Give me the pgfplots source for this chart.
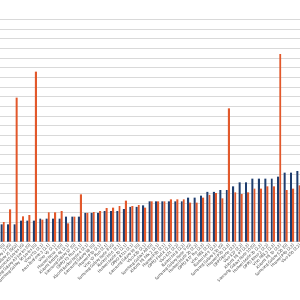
\documentclass[border=0pt]{standalone}
\usepackage{pgfplots}
\pgfplotsset{compat=1.18}
\usepackage{pgfplotstable}
\usepackage{fontspec}
\setmainfont{Carlito}
\definecolor{barblue}{HTML}{1F3D6E}
\definecolor{barorange}{HTML}{E2582B}
\pgfplotstableread{
x b o
0 1.79 2.03
1 1.79 3.34
2 1.79 14.9
3 2.17 2.62
4 2.17 2.76
5 2.17 17.6
6 2.38 2.28
7 2.38 3.03
8 2.38 3.03
9 2.38 3.17
10 2.59 1.90
11 2.59 2.59
12 2.59 4.90
13 2.97 2.97
14 2.97 3.07
15 2.97 3.17
16 3.17 3.48
17 3.17 3.52
18 3.17 3.69
19 3.38 4.24
20 3.59 3.69
21 3.59 3.79
22 3.76 3.52
23 4.17 4.17
24 4.17 4.17
25 4.17 4.17
26 4.17 4.38
27 4.17 4.38
28 4.17 4.38
29 4.55 4.03
30 4.55 4.03
31 4.76 4.55
32 5.14 4.83
33 5.14 5.03
34 5.34 4.48
35 5.34 13.8
36 5.72 5.10
37 6.14 4.93
38 6.14 5.10
39 6.52 5.48
40 6.52 5.48
41 6.52 5.72
42 6.52 5.72
43 6.72 19.4
44 7.14 5.34
45 7.14 5.48
46 7.31 5.83
}\data
\begin{document}
\begin{tikzpicture}
\path[use as bounding box] (0,0) rectangle (300pt,300pt);
\begin{axis}[
  at={(-0.5pt,58.3pt)}, anchor=south west,
  scale only axis, width=302.2pt, height=222.4pt,
  xmin=-0.5, xmax=46.5, ymin=0, ymax=23,
  ytick={0,1,...,23}, yticklabels={},
  ymajorgrids, major grid style={color=black!15, line width=0.8pt},
  axis line style={draw=none},
  major tick length=0pt,
  xtick={0,1,...,46},
  xticklabels={Huawei Y6 (G),Samsung Galaxy J2 (G),Samsung Galaxy J5 (SG2),Lenovo K6 Series (G),Samsung Galaxy A5 Series (G),Samsung Galaxy S6 Series (G),Vivo Y53 (2.1),Asus ZenFone 3 (2.1),Vivo V5 (2.1),Huawei Nova 2 (G),Xiaomi Redmi 4X (2.1),Samsung Galaxy S7 (G),OPPO F3 Plus (2.1),Xiaomi Redmi Note 4 (2.1),Samsung Galaxy S8 (G),Huawei P10 (2.1),Vivo V7 Plus (2.1),Samsung Galaxy Note 8 (G),Xiaomi Mi 6 (2.1),Huawei Mate 10 (2.1),OPPO R11s (2.1),Samsung Galaxy S9 (G),Vivo X20 (2.1),Samsung Galaxy A8 (G),Xiaomi Mi Mix 2 (2.1),Huawei P20 (2.1),OPPO Find X (2.2),Vivo X21 (2.2),Xiaomi Mi 8 (2.2),Samsung Galaxy Note 9 (G),Huawei Mate 20 (2.2),OPPO R17 Pro (2.2),Vivo NEX (2.2),Xiaomi Mi 9 (2.2),Samsung Galaxy S10 (G),Huawei P30 (2.2),OPPO Reno (2.2),Vivo X27 (2.2),Xiaomi Mi 9T (2.2),Samsung Galaxy Note 10 (G),Huawei Mate 30 (2.2),OPPO Reno 2 (2.2),Vivo NEX 3 (2.2),Xiaomi Mi 10 (2.2),Samsung Galaxy S20 (G),Huawei P40 (2.2),Vivo X50 (2.2)},
  xticklabel style={rotate=45, anchor=north east, font=\fontsize{4.5}{5}\selectfont, inner sep=1pt, text=black!75},
  ybar, bar width=0.3,
]
\addplot[ybar, bar shift=-0.16, fill=barblue, draw=none, bar width=0.3] table[x=x,y=b]{\data};
\addplot[ybar, bar shift=0.16, fill=barorange, draw=none, bar width=0.3] table[x=x,y=o]{\data};
\end{axis}
\end{tikzpicture}
\end{document}
